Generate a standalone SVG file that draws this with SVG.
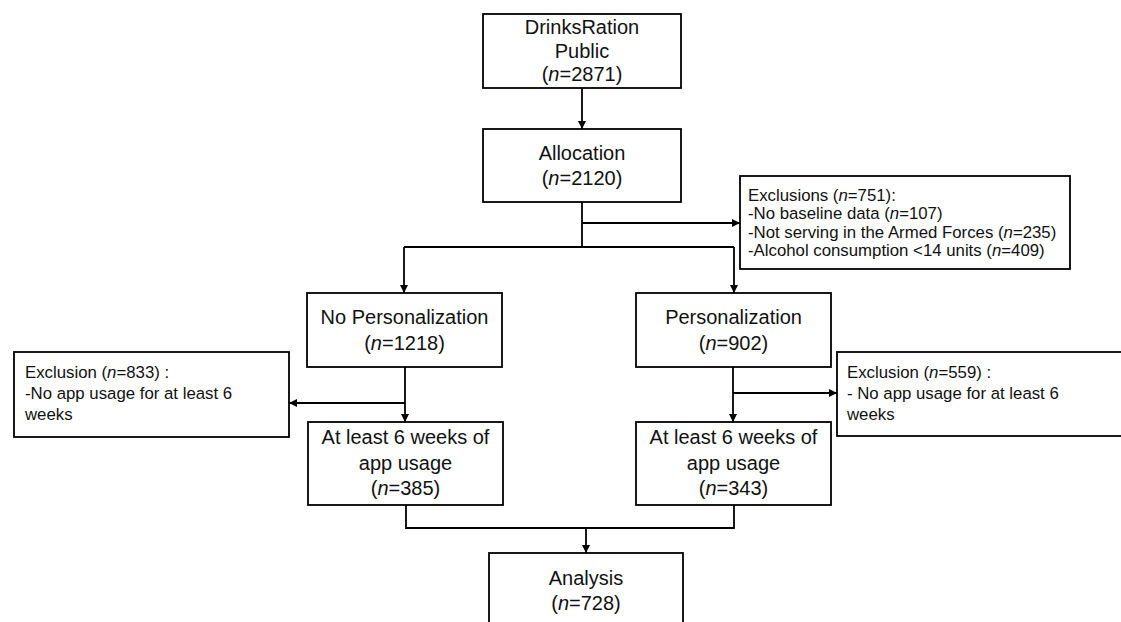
<svg xmlns="http://www.w3.org/2000/svg" width="1121" height="622" viewBox="0 0 1121 622">
<style>
.box{fill:#fff;stroke:#000;stroke-width:1.8}
.t{font-family:"Liberation Sans",Arial,sans-serif;font-size:20px;fill:#111;text-anchor:middle}
.e{font-family:"Liberation Sans",Arial,sans-serif;font-size:16.8px;fill:#111}
.ln{fill:none;stroke:#000;stroke-width:1.8}
.i{font-style:italic}
</style>
<defs>
<marker id="ah" viewBox="0 0 10 10" refX="10" refY="5" markerWidth="8" markerHeight="8" markerUnits="userSpaceOnUse" orient="auto">
<path d="M0,0 L10,5 L0,10 z" fill="#000"/>
</marker>
</defs>
<g id="connectors">
<path class="ln" d="M582,88 V129" marker-end="url(#ah)"/>
<path class="ln" d="M582,202 V247"/>
<path class="ln" d="M404,247 H734"/>
<path class="ln" d="M404,247 V293" marker-end="url(#ah)"/>
<path class="ln" d="M734,247 V293" marker-end="url(#ah)"/>
<path class="ln" d="M582,223 H740" marker-end="url(#ah)"/>
<path class="ln" d="M405,367 V422" marker-end="url(#ah)"/>
<path class="ln" d="M405,403 H289" marker-end="url(#ah)"/>
<path class="ln" d="M733,367 V422" marker-end="url(#ah)"/>
<path class="ln" d="M733,393 H837" marker-end="url(#ah)"/>
<path class="ln" d="M406,505 V528 H734 V505"/>
<path class="ln" d="M586,528 V553" marker-end="url(#ah)"/>
</g>
<g id="drinksration">
<rect class="box" x="483" y="14" width="198" height="74"/>
<text class="t" x="582" y="34">DrinksRation</text>
<text class="t" x="582" y="57.5">Public</text>
<text class="t" x="582" y="81">(<tspan class="i">n</tspan>=2871)</text>
</g>
<g id="allocation">
<rect class="box" x="483" y="129" width="198" height="73"/>
<text class="t" x="582" y="160">Allocation</text>
<text class="t" x="582" y="185">(<tspan class="i">n</tspan>=2120)</text>
</g>
<g id="exclusions-751">
<rect class="box" x="740" y="176" width="330" height="93"/>
<text class="e" x="748" y="200.5">Exclusions (<tspan class="i">n</tspan>=751):</text>
<text class="e" x="748" y="219">-No baseline data (<tspan class="i">n</tspan>=107)</text>
<text class="e" x="748" y="237.5">-Not serving in the Armed Forces (<tspan class="i">n</tspan>=235)</text>
<text class="e" x="748" y="256">-Alcohol consumption &lt;14 units (<tspan class="i">n</tspan>=409)</text>
</g>
<g id="no-personalization">
<rect class="box" x="307" y="293" width="195" height="74"/>
<text class="t" x="404.5" y="324">No Personalization</text>
<text class="t" x="404.5" y="350">(<tspan class="i">n</tspan>=1218)</text>
</g>
<g id="personalization">
<rect class="box" x="636" y="293" width="195" height="74"/>
<text class="t" x="733.5" y="324">Personalization</text>
<text class="t" x="733.5" y="350">(<tspan class="i">n</tspan>=902)</text>
</g>
<g id="exclusion-833">
<rect class="box" x="14" y="352" width="275" height="85"/>
<text class="e" x="25" y="378">Exclusion (<tspan class="i">n</tspan>=833) :</text>
<text class="e" x="25" y="399">-No app usage for at least 6</text>
<text class="e" x="25" y="420">weeks</text>
</g>
<g id="exclusion-559">
<rect class="box" x="837" y="352" width="290" height="84"/>
<text class="e" x="847" y="378">Exclusion (<tspan class="i">n</tspan>=559) :</text>
<text class="e" x="847" y="399">- No app usage for at least 6</text>
<text class="e" x="847" y="420">weeks</text>
</g>
<g id="usage-385">
<rect class="box" x="308" y="422" width="195" height="83"/>
<text class="t" x="405.5" y="444">At least 6 weeks of</text>
<text class="t" x="405.5" y="469.5">app usage</text>
<text class="t" x="405.5" y="495">(<tspan class="i">n</tspan>=385)</text>
</g>
<g id="usage-343">
<rect class="box" x="636" y="422" width="195" height="83"/>
<text class="t" x="733.5" y="444">At least 6 weeks of</text>
<text class="t" x="733.5" y="469.5">app usage</text>
<text class="t" x="733.5" y="495">(<tspan class="i">n</tspan>=343)</text>
</g>
<g id="analysis">
<rect class="box" x="489" y="553" width="194" height="80"/>
<text class="t" x="586" y="585">Analysis</text>
<text class="t" x="586" y="610">(<tspan class="i">n</tspan>=728)</text>
</g>
</svg>
